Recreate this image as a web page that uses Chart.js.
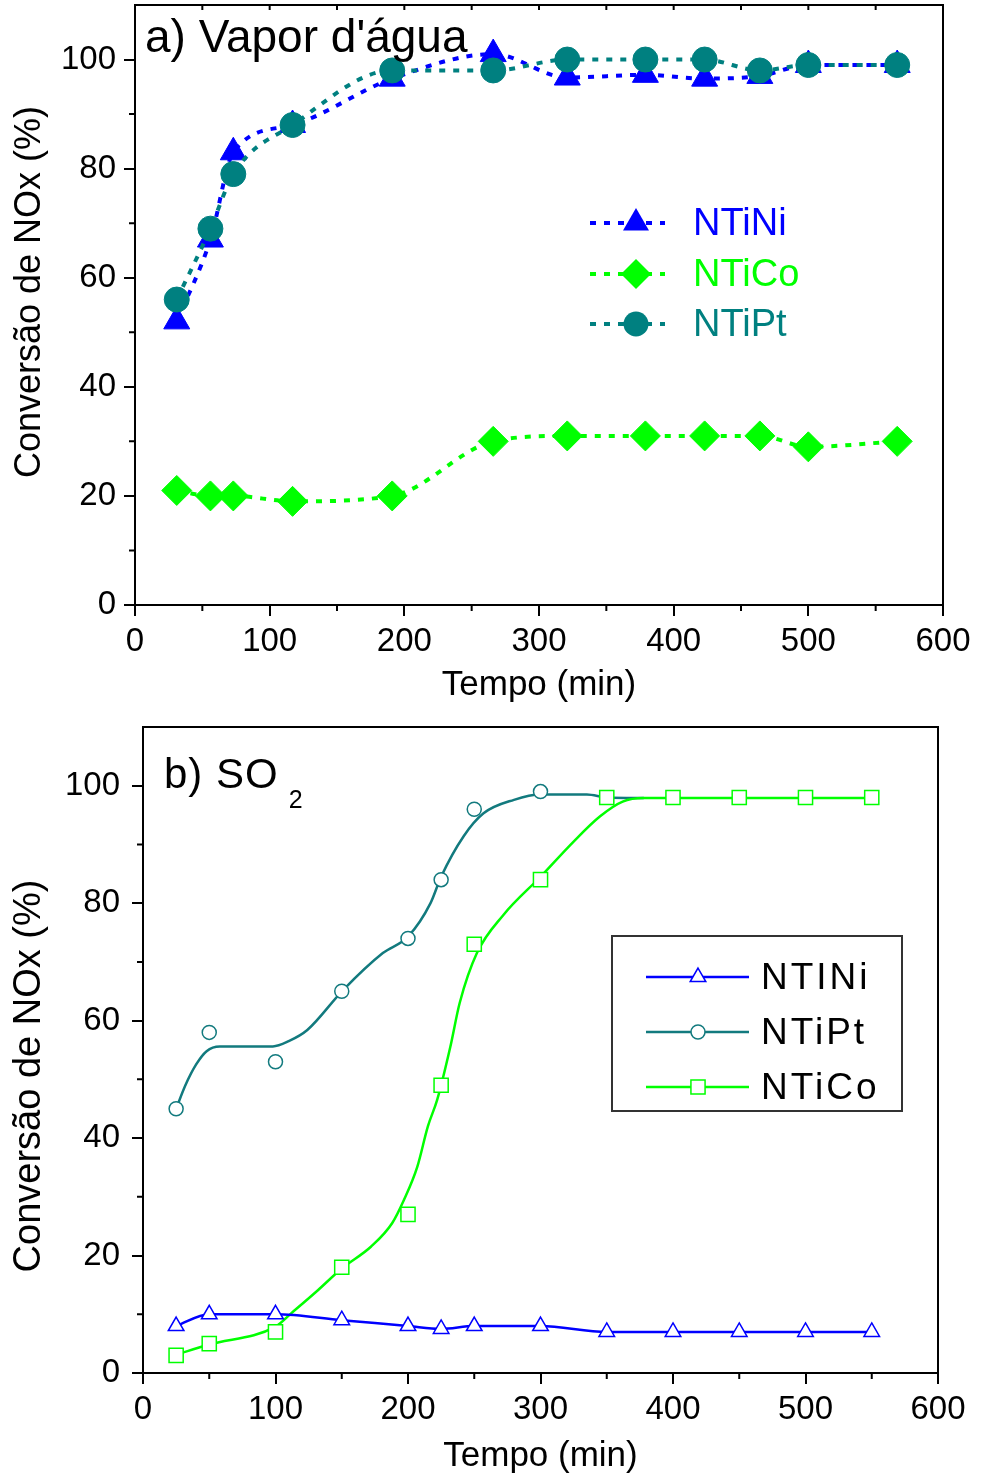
<!DOCTYPE html>
<html>
<head>
<meta charset="utf-8">
<script src="https://cdn.jsdelivr.net/npm/chart.js@4.4.1/dist/chart.umd.min.js"></script>
<style>
body { margin: 0; background: #fff; }
#wrapA { position: absolute; left: 0; top: 0; width: 981px; height: 710px; }
#wrapB { position: absolute; left: 0; top: 710px; width: 981px; height: 771px; }
</style>
</head>
<body>
<div id="wrapA"><canvas id="chartA" width="981" height="710"></canvas></div>
<div id="wrapB"><canvas id="chartB" width="981" height="771"></canvas></div>
<script>
var FONT = '"Liberation Sans", Arial, sans-serif';
var BLUE = '#0000ff', GREEN = '#00ff00', TEAL = '#008080', TEAL_B = '#127a7e';

// a) Vapor d'água
var tempoA = [31, 56, 73, 117, 191, 266, 321, 379, 423, 464, 500, 566];
var ntiNiA = [52, 67, 83, 88, 96.5, 101, 96.7, 97.2, 96.5, 97, 99, 99];
var ntiCoA = [21, 20, 20, 19, 20, 30, 31, 31, 31, 31, 29, 30];
var ntiPtA = [56, 69, 79, 88, 98, 98, 100, 100, 100, 98, 99, 99];

// b) SO2
var tempoB = [25, 50, 100, 150, 200, 225, 250, 300, 350, 400, 450, 500, 550];
var ntiNiB = [8, 10, 10, 9, 8, 7.5, 8, 8, 7, 7, 7, 7, 7];
var ntiCoB = [3, 5, 7, 18, 27, 49, 73, 84, 98, 98, 98, 98, 98];
var tempoPtB = [25, 50, 100, 150, 200, 225, 250, 300];
var ntiPtB = [45, 58, 53, 65, 74, 84, 96, 99];

// fitted curves (they do not pass through every point)
var curvePtX = [25, 32, 40, 48, 58, 75, 98, 110, 124, 151, 181, 200, 217, 225, 242, 257, 280, 300, 335, 350, 378];
var curvePtY = [45, 49, 52.5, 54.8, 55.6, 55.6, 55.6, 56.5, 58.4, 65.2, 71.5, 74.3, 80, 84.5, 91.4, 95.3, 97.6, 98.5, 98.5, 98, 97.9];
var curveCoX = [25, 49, 100, 112, 132, 150, 172, 188, 197, 207, 215, 222, 232, 239, 252, 272, 300, 325, 345, 362, 378, 550];
var curveCoY = [3.1, 4.8, 7.9, 10.2, 14.1, 17.8, 21.5, 25.5, 29.5, 35.1, 42, 46.5, 55.6, 63, 71.5, 78, 84.5, 90.5, 94.8, 97.3, 97.9, 97.9];

var xTicks = [0, 100, 200, 300, 400, 500, 600];
var yTicks = [0, 20, 40, 60, 80, 100];

function pts(xs, ys) {
	return xs.map(function(x, i) { return {x: x, y: ys[i]}; });
}

function drawMarker(ctx, style, x, y, r, fill, stroke, lw) {
	ctx.beginPath();
	if (style === 'circle') {
		ctx.arc(x, y, r, 0, Math.PI * 2);
	} else if (style === 'triangle') {
		ctx.moveTo(x, y - r);
		ctx.lineTo(x + r * 0.866, y + r * 0.5);
		ctx.lineTo(x - r * 0.866, y + r * 0.5);
		ctx.closePath();
	} else if (style === 'rectRot') {
		ctx.moveTo(x, y - r);
		ctx.lineTo(x + r, y);
		ctx.lineTo(x, y + r);
		ctx.lineTo(x - r, y);
		ctx.closePath();
	} else {
		var s = r * Math.SQRT1_2;
		ctx.rect(x - s, y - s, 2 * s, 2 * s);
	}
	if (fill) { ctx.fillStyle = fill; ctx.fill(); }
	if (stroke) { ctx.lineWidth = lw; ctx.strokeStyle = stroke; ctx.stroke(); }
}

// box round the plot, minor ticks, y title, panel label
var framePlugin = {
	id: 'frame',
	afterDraw: function(chart, args, o) {
		var ctx = chart.ctx, a = chart.chartArea, xs = chart.scales.x, ys = chart.scales.y;
		ctx.save();
		ctx.strokeStyle = '#000';
		ctx.lineWidth = 2;
		ctx.strokeRect(a.left, a.top, a.right - a.left, a.bottom - a.top);
		ctx.beginPath();
		for (var v = 50; v < 600; v += 100) {
			var px = xs.getPixelForValue(v);
			ctx.moveTo(px, a.bottom); ctx.lineTo(px, a.bottom + 6);
		}
		for (var w = 10; w < 110; w += 20) {
			var py = ys.getPixelForValue(w);
			ctx.moveTo(a.left, py); ctx.lineTo(a.left - 6, py);
		}
		if (o.topTicks) {
			for (var t = 50; t < 600; t += 50) {
				var tx = xs.getPixelForValue(t);
				ctx.moveTo(tx, a.top); ctx.lineTo(tx, a.top + 5);
			}
		}
		ctx.stroke();

		// y title
		ctx.save();
		ctx.translate(o.yTitle.x, o.yTitle.y);
		ctx.rotate(-Math.PI / 2);
		ctx.fillStyle = '#000';
		ctx.font = o.yTitle.size + 'px ' + FONT;
		ctx.textAlign = 'center';
		ctx.textBaseline = 'middle';
		ctx.fillText('Conversão de NOx (%)', 0, 0);
		ctx.restore();

		ctx.fillStyle = '#000';
		ctx.textBaseline = 'alphabetic';
		ctx.textAlign = 'left';
		ctx.font = o.size + 'px ' + FONT;
		if (o.spacing) ctx.letterSpacing = o.spacing + 'px';
		ctx.fillText(o.text, o.x, o.y);
		if (o.sub) {
			var wdt = ctx.measureText(o.text).width;
			ctx.font = o.subSize + 'px ' + FONT;
			ctx.fillText(o.sub, o.x + wdt + 10, o.y + 20);
		}
		ctx.restore();
	}
};

var legendPlugin = {
	id: 'legendBox',
	afterDraw: function(chart, args, o) {
		var ctx = chart.ctx;
		ctx.save();
		if (o.box) {
			ctx.strokeStyle = '#333';
			ctx.lineWidth = 2;
			ctx.strokeRect(o.box[0], o.box[1], o.box[2] - o.box[0], o.box[3] - o.box[1]);
		}
		o.items.forEach(function(it, i) {
			var y = o.ys[i];
			ctx.beginPath();
			ctx.setLineDash(it.dash || []);
			ctx.strokeStyle = it.color;
			ctx.lineWidth = it.lw;
			ctx.moveTo(o.x0, y); ctx.lineTo(o.x1, y);
			ctx.stroke();
			ctx.setLineDash([]);
			drawMarker(ctx, it.style, o.mx, y, it.r, it.fill, it.stroke, it.slw);
			ctx.font = o.size + 'px ' + FONT;
			if (o.spacing) ctx.letterSpacing = o.spacing + 'px';
			ctx.fillStyle = it.textColor;
			ctx.textBaseline = 'middle';
			ctx.textAlign = 'left';
			ctx.fillText(it.label, o.tx, y + 2);
		});
		ctx.restore();
	}
};

function scaleX(h) {
	return {
		type: 'linear', min: 0, max: 600,
		afterBuildTicks: function(s) { s.ticks = xTicks.map(function(v) { return {value: v}; }); },
		afterFit: function(s) { s.height = h; s.paddingLeft = 0; s.paddingRight = 0; },
		grid: {drawOnChartArea: false, drawTicks: true, tickLength: 11, color: '#000', lineWidth: 2},
		border: {display: true, color: '#000', width: 2},
		ticks: {color: '#000', font: {family: FONT, size: 33}, padding: 6, maxRotation: 0, autoSkip: false},
		title: {display: true, text: 'Tempo (min)', color: '#000', font: {family: FONT, size: 35}, padding: {top: 0, bottom: 4}}
	};
}

function scaleY(w, pad) {
	return {
		type: 'linear', min: 0, max: 110,
		afterBuildTicks: function(s) { s.ticks = yTicks.map(function(v) { return {value: v}; }); },
		afterFit: function(s) { s.width = w; s.paddingTop = 0; s.paddingBottom = 0; },
		grid: {drawOnChartArea: false, drawTicks: true, tickLength: 11, color: '#000', lineWidth: 2},
		border: {display: true, color: '#000', width: 2},
		ticks: {color: '#000', font: {family: FONT, size: 33}, padding: pad}
	};
}

var dashA = [6, 8];

new Chart(document.getElementById('chartA'), {
	type: 'line',
	data: {
		datasets: [
			{label: 'NTiPt', data: pts(tempoA, ntiPtA), borderColor: TEAL, backgroundColor: TEAL,
				borderDash: dashA, borderWidth: 4, cubicInterpolationMode: 'monotone', clip: false,
				pointStyle: 'circle', pointRadius: 12.5, pointBackgroundColor: TEAL, pointBorderColor: TEAL, pointBorderWidth: 1, order: 0},
			{label: 'NTiNi', data: pts(tempoA, ntiNiA), borderColor: BLUE, backgroundColor: BLUE,
				borderDash: dashA, borderWidth: 4, cubicInterpolationMode: 'monotone', clip: false,
				pointStyle: 'triangle', pointRadius: 15, pointBackgroundColor: BLUE, pointBorderColor: BLUE, pointBorderWidth: 1, order: 1},
			{label: 'NTiCo', data: pts(tempoA, ntiCoA), borderColor: GREEN, backgroundColor: GREEN,
				borderDash: dashA, borderWidth: 4, cubicInterpolationMode: 'monotone', clip: false,
				pointStyle: 'rectRot', pointRadius: 15, pointBackgroundColor: GREEN, pointBorderColor: GREEN, pointBorderWidth: 1, order: 2}
		]
	},
	options: {
		responsive: false,
		animation: false,
		devicePixelRatio: 1,
		layout: {autoPadding: false, padding: {top: 5, right: 38, bottom: 0, left: 0}},
		scales: {x: scaleX(105), y: scaleY(135, 8)},
		plugins: {
			legend: {display: false},
			tooltip: {enabled: false},
			frame: {topTicks: true, text: "a) Vapor d'água", x: 145, y: 52, size: 46,
				yTitle: {x: 30, y: 292, size: 36}},
			legendBox: {
				x0: 590, x1: 665, mx: 636, tx: 693, ys: [223, 274, 324], size: 38,
				items: [
					{label: 'NTiNi', color: BLUE, textColor: BLUE, dash: dashA, lw: 4, style: 'triangle', r: 15, fill: BLUE},
					{label: 'NTiCo', color: GREEN, textColor: GREEN, dash: dashA, lw: 4, style: 'rectRot', r: 15, fill: GREEN},
					{label: 'NTiPt', color: TEAL, textColor: TEAL, dash: dashA, lw: 4, style: 'circle', r: 12.5, fill: TEAL}
				]
			}
		}
	},
	plugins: [framePlugin, legendPlugin]
});

new Chart(document.getElementById('chartB'), {
	type: 'line',
	data: {
		datasets: [
			{label: 'NTINi', data: pts(tempoB, ntiNiB), borderColor: BLUE, borderWidth: 2.5, cubicInterpolationMode: 'monotone',
				pointStyle: 'triangle', pointRadius: 9, pointBackgroundColor: '#fff', pointBorderColor: BLUE, pointBorderWidth: 1.5, order: 0},
			{label: 'NTiPt', data: pts(tempoPtB, ntiPtB), showLine: false,
				pointStyle: 'circle', pointRadius: 7, pointBackgroundColor: '#fff', pointBorderColor: TEAL_B, pointBorderWidth: 1.5, order: 0},
			{label: 'NTiCo', data: pts(tempoB, ntiCoB), showLine: false,
				pointStyle: 'rect', pointRadius: 10, pointBackgroundColor: '#fff', pointBorderColor: GREEN, pointBorderWidth: 1.5, order: 0},
			{label: 'NTiPt curve', data: pts(curvePtX, curvePtY), borderColor: TEAL_B, borderWidth: 2.5,
				cubicInterpolationMode: 'monotone', pointRadius: 0, order: 2},
			{label: 'NTiCo curve', data: pts(curveCoX, curveCoY), borderColor: GREEN, borderWidth: 2.5,
				cubicInterpolationMode: 'monotone', pointRadius: 0, order: 1}
		]
	},
	options: {
		responsive: false,
		animation: false,
		devicePixelRatio: 1,
		layout: {autoPadding: false, padding: {top: 17, right: 43, bottom: 0, left: 0}},
		scales: {x: scaleX(108), y: scaleY(143, 12)},
		plugins: {
			legend: {display: false},
			tooltip: {enabled: false},
			frame: {topTicks: false, text: 'b) SO', sub: '2', x: 164, y: 78, size: 42, subSize: 25, spacing: 1,
				yTitle: {x: 30, y: 366, size: 38}},
			legendBox: {
				box: [612, 226, 902, 401],
				x0: 646, x1: 749, mx: 698, tx: 761, ys: [267, 322, 377], size: 37, spacing: 3,
				items: [
					{label: 'NTINi', color: BLUE, textColor: '#000', lw: 2.5, style: 'triangle', r: 9, fill: '#fff', stroke: BLUE, slw: 1.5},
					{label: 'NTiPt', color: TEAL_B, textColor: '#000', lw: 2.5, style: 'circle', r: 7, fill: '#fff', stroke: TEAL_B, slw: 1.5},
					{label: 'NTiCo', color: GREEN, textColor: '#000', lw: 2.5, style: 'rect', r: 10, fill: '#fff', stroke: GREEN, slw: 1.5}
				]
			}
		}
	},
	plugins: [framePlugin, legendPlugin]
});
</script>
</body>
</html>
